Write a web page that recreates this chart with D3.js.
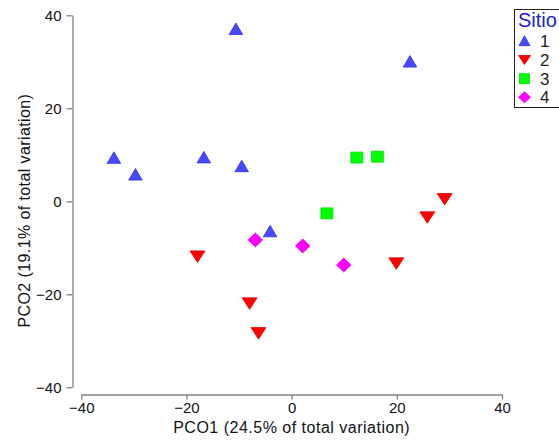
<!DOCTYPE html>
<html><head><meta charset="utf-8">
<script src="https://cdn.jsdelivr.net/npm/d3@7"></script>
<style>
body{margin:0;background:#fff;}
svg{display:block;font-family:Arial,"Liberation Sans",sans-serif;}
</style></head>
<body>
<script>
// Data (PCO1, PCO2) per Sitio
const sitios = ["1","2","3","4"];
const sitio1 = [[-10.6,37.1],[22.5,30.1],[-33.8,9.4],[-29.7,5.8],[-16.7,9.5],[-9.5,7.6],[-4.1,-6.4]];
const sitio2 = [[-17.9,-11.9],[-8.0,-22.0],[-6.3,-28.4],[19.9,-13.4],[25.8,-3.5],[29.1,0.45]];
const sitio3 = [[12.4,9.4],[16.3,9.6],[6.7,-2.6]];
const sitio4 = [[-6.9,-8.3],[2.1,-9.6],[9.9,-13.7]];
const xTicks = [-40,-20,0,20,40];
const yTicks = [-40,-20,0,20,40];
const xLabel = "PCO1 (24.5% of total variation)";
const yLabel = "PCO2 (19.1% of total variation)";

const W = 559, H = 441;
const svg = d3.select("body").append("svg").attr("width", W).attr("height", H);

const x = d3.scaleLinear().domain([-40,40]).range([81.3,502]);
const y = d3.scaleLinear().domain([-40,40]).range([387.3,15.3]);

const axisColor = "#808080";

// X axis
const gx = svg.append("g").attr("transform","translate(0,394.5)")
  .call(d3.axisBottom(x).tickValues(xTicks).tickSize(5).tickSizeOuter(0).tickPadding(3).tickFormat(d3.format("d")));
// Y axis
const gy = svg.append("g").attr("transform","translate(72.5,0)")
  .call(d3.axisLeft(y).tickValues(yTicks).tickSize(6).tickSizeOuter(0).tickPadding(5).tickFormat(d3.format("d")));
[gx,gy].forEach(g=>{
  g.select(".domain").attr("stroke",axisColor).attr("stroke-width",1.3);
  g.selectAll(".tick line").attr("stroke",axisColor).attr("stroke-width",1.3);
  g.selectAll(".tick text").attr("fill","#111").style("font-size","15px").style("font-family","Arial, 'Liberation Sans', sans-serif");
});
gx.selectAll(".tick text").attr("dy","0.72em");
gy.selectAll(".tick text").attr("dy","0.35em");

// Axis titles
svg.append("text").attr("x", x(0)).attr("y", 433).attr("text-anchor","middle")
  .style("font-size","16px").style("letter-spacing","0.5px").attr("fill","#111").text(xLabel);
svg.append("text").attr("transform", `translate(30,${y(-2)}) rotate(-90)`).attr("text-anchor","middle")
  .style("font-size","16px").style("letter-spacing","0.4px").attr("fill","#111").text(yLabel);

// marker shapes (bbox centered)
function shape(type, s){
  const w = s.w/2, h = s.h/2;
  if(type==="up") return `M0,${-h}L${w},${h}L${-w},${h}Z`;
  if(type==="down") return `M${-w},${-h}L${w},${-h}L0,${h}Z`;
  if(type==="sq") return `M${-w},${-h}H${w}V${h}H${-w}Z`;
  return `M0,${-h}L${w},0L0,${h}L${-w},0Z`;
}
const styles = [
  {data:sitio1, type:"up",   fill:"#4848ff", stroke:"#3030e0", size:{w:13.5,h:11.5}, lsize:{w:11,h:10}},
  {data:sitio2, type:"down", fill:"#ff0000", stroke:"#e00000", size:{w:15,h:11.5}, lsize:{w:12,h:9}},
  {data:sitio3, type:"sq",   fill:"#00ff00", stroke:"#00e000", size:{w:12,h:11}, lsize:{w:10,h:10}},
  {data:sitio4, type:"dia",  fill:"#ff00ff", stroke:"#e800e8", size:{w:14.5,h:14}, lsize:{w:12,h:11}}
];

styles.forEach(st=>{
  svg.append("g").selectAll("path").data(st.data).join("path")
    .attr("d", shape(st.type, st.size))
    .attr("transform", d=>`translate(${x(d[0])},${y(d[1])})`)
    .attr("fill", st.fill).attr("stroke", st.stroke).attr("stroke-width",0.8);
});

// Legend
const lg = svg.append("g");
lg.append("rect").attr("x",514.5).attr("y",9.5).attr("width",60).attr("height",98)
  .attr("fill","#fff").attr("stroke","#222").attr("stroke-width",1);
lg.append("text").attr("x",518).attr("y",27).style("font-size","20px").attr("fill","#2020c8").text("Sitio");
const rowsY = [40.7,60,78.7,97.3];
styles.forEach((st,i)=>{
  lg.append("path").attr("d", shape(st.type, st.lsize))
    .attr("transform",`translate(524.5,${rowsY[i]})`)
    .attr("fill", st.fill).attr("stroke", st.stroke).attr("stroke-width",0.8);
  lg.append("text").attr("x",540).attr("y",rowsY[i]+6).style("font-size","17px").attr("fill","#222").text(sitios[i]);
});
</script>
</body></html>
